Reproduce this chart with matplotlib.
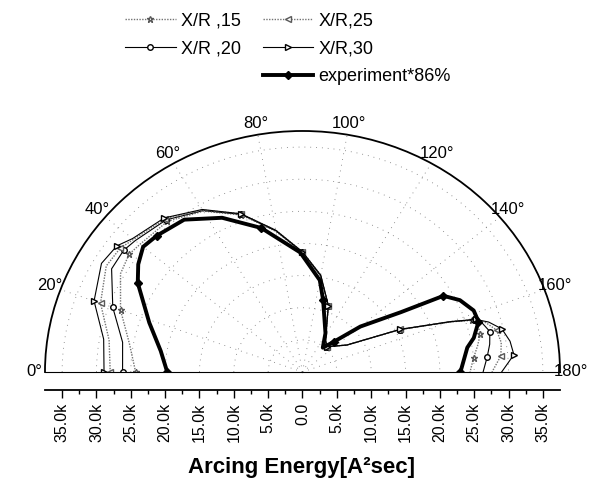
import numpy as np
import matplotlib
matplotlib.use('Agg')
import matplotlib.pyplot as plt
from matplotlib.lines import Line2D

plt.rcParams['font.family'] = ['Liberation Sans', 'DejaVu Sans']

# angles in degrees, arcing energy in k A^2 sec
theta_xr = [0, 10, 20, 30, 36, 40, 50, 60, 70, 80, 90, 100, 110, 124, 132, 147, 155, 160, 162, 164, 167, 171, 175, 180]
r_xr15 = [24.3, 25.6, 28.2, 30.6, 31.2, 30.9, 30.6, 28.9, 26.0, 22.2, 18.6, 15.2, 11.0, 6.0, 5.3, 7.7, 15.6, 22.8, 26.0, 26.5, 26.6, 25.8, 25.0, 24.4]
r_xr20 = [26.2, 26.6, 29.4, 32.1, 32.2, 31.8, 30.9, 29.0, 26.1, 22.3, 18.6, 15.2, 11.0, 6.0, 5.3, 7.7, 15.6, 22.8, 26.3, 27.3, 28.0, 27.6, 27.0, 26.3]
r_xr25 = [28.0, 28.6, 31.3, 33.0, 32.8, 32.1, 31.1, 29.1, 26.2, 22.4, 18.7, 15.3, 11.0, 6.0, 5.3, 7.7, 15.7, 22.9, 26.4, 27.8, 29.0, 29.3, 29.0, 27.6]
r_xr30 = [28.9, 29.4, 32.3, 33.8, 33.4, 32.3, 31.3, 29.2, 26.2, 22.4, 18.7, 15.3, 11.0, 6.0, 5.3, 7.7, 15.7, 22.9, 26.5, 28.2, 29.8, 30.6, 30.9, 29.0]

theta_exp = [0, 9, 19, 30, 35, 40, 45, 54, 64, 75, 89, 100, 105, 119, 128, 134, 140, 147, 150, 154, 159, 163, 168, 171, 180]
r_exp = [19.7, 20.9, 23.6, 27.7, 29.2, 30.3, 30.0, 29.3, 26.7, 23.2, 18.6, 14.5, 11.6, 6.9, 4.8, 6.5, 11.0, 17.1, 23.7, 25.5, 26.7, 26.8, 25.5, 24.3, 23.0]

angle_ticks = list(range(0, 181, 20))
energy_ticks = list(range(-35, 36, 5))

fig = plt.figure(figsize=(6.07, 4.90), dpi=100)

ax = fig.add_axes([0.0741, -0.0051, 0.8485, 0.9837], projection='polar')
ax.set_theta_zero_location('W')
ax.set_theta_direction(-1)
ax.set_thetamin(0)
ax.set_thetamax(180)
ax.set_rlim(0, 37.5)
ax.set_aspect('auto')
ax.patch.set_alpha(0)

ax.set_xticks(np.radians(angle_ticks))
ax.set_xticklabels([f'{a}°' for a in angle_ticks])
ax.set_xticks(np.radians(np.arange(10, 180, 20)), minor=True)
ax.tick_params(axis='x', which='major', direction='in', length=5, width=1, labelsize=12, pad=1)
ax.tick_params(axis='x', which='minor', direction='in', length=3, width=0.8)
ax.set_yticks(np.arange(5, 36, 5))
ax.set_yticklabels([])
ax.grid(True, linestyle=(0, (1, 6)), color='0.45', linewidth=0.6)
ax.spines['polar'].set_linewidth(1.3)
ax.spines['start'].set_visible(False)
ax.spines['end'].set_visible(False)
ax.spines['inner'].set_visible(False)

l15, = ax.plot(np.radians(theta_xr), r_xr15, color='0.45', ls=(0, (1, 1)), lw=1,
               marker='*', ms=5, mfc='white', mec='0.35', markevery=2, label='X/R ,15')
l20, = ax.plot(np.radians(theta_xr), r_xr20, color='black', lw=0.8,
               marker='o', ms=4, mfc='white', mec='black', markevery=2, label='X/R ,20')
l25, = ax.plot(np.radians(theta_xr), r_xr25, color='0.45', ls=(0, (1, 1)), lw=1,
               marker='<', ms=5, mfc='white', mec='0.35', markevery=2, label='X/R,25')
l30, = ax.plot(np.radians(theta_xr), r_xr30, color='black', lw=0.8,
               marker='>', ms=5, mfc='white', mec='black', markevery=2, label='X/R,30')
lexp, = ax.plot(np.radians(theta_exp), r_exp, color='black', lw=2.8,
                marker='D', ms=4, mfc='black', mec='black', markevery=3, label='experiment*86%')

# mirrored energy scale below the half circle
ax2 = fig.add_axes([0.0741, 0.2041, 0.8485, 0.001])
ax2.set_xlim(-37.5, 37.5)
ax2.set_ylim(0, 1)
for s in ['left', 'right', 'top']:
    ax2.spines[s].set_visible(False)
ax2.spines['bottom'].set_linewidth(1.3)
ax2.set_yticks([])
ax2.set_xticks(energy_ticks)
ax2.set_xticks(np.arange(-32.5, 33, 5), minor=True)
ax2.set_xticklabels(['0.0' if v == 0 else f'{abs(v):.1f}k' for v in energy_ticks],
                    rotation=90, fontsize=11.5)
ax2.tick_params(axis='x', which='major', length=6, width=1, pad=3)
ax2.tick_params(axis='x', which='minor', length=3, width=1)
ax2.patch.set_alpha(0)

fig.text(0.4975, 1 - 467 / 490, 'Arcing Energy[A²sec]', ha='center', va='center',
         fontsize=16, fontweight='bold')

blank = Line2D([], [], color='none')
fig.legend([l15, l20, blank, l25, l30, lexp],
           ['X/R ,15', 'X/R ,20', '', 'X/R,25', 'X/R,30', 'experiment*86%'],
           ncol=2, loc='upper left', bbox_to_anchor=(0.206, 0.975), frameon=False,
           fontsize=13, handlelength=2.8, handletextpad=0.3, columnspacing=1.2,
           labelspacing=0.6, borderpad=0, borderaxespad=0)

fig.savefig('out.png', dpi=100)
